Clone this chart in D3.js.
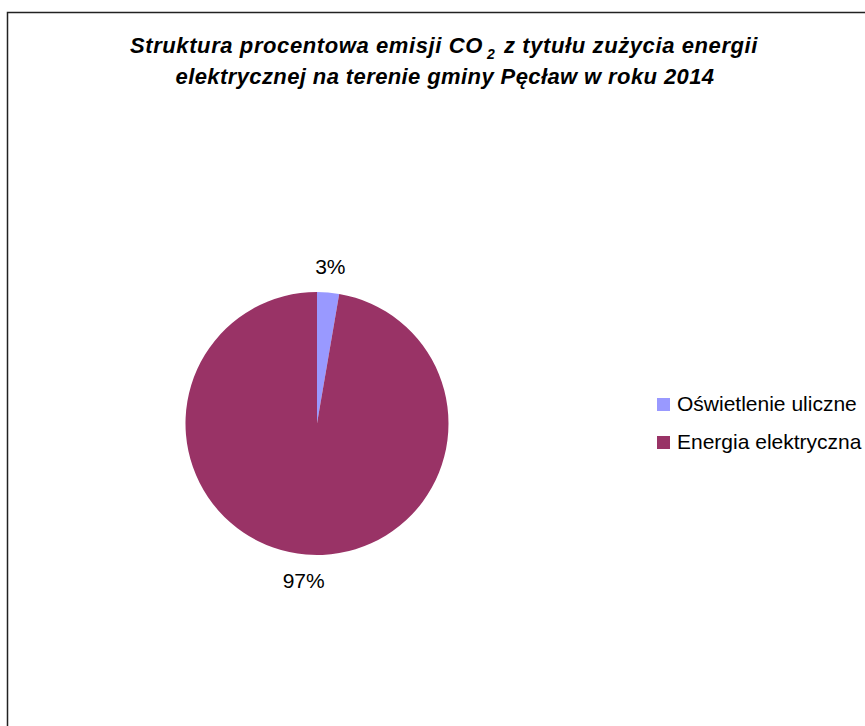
<!DOCTYPE html>
<html>
<head>
<meta charset="utf-8">
<script src="https://cdn.jsdelivr.net/npm/d3@7/dist/d3.min.js"></script>
<style>
  html, body { margin: 0; padding: 0; background: #fff; }
  svg { display: block; font-family: "Liberation Sans", Arial, sans-serif; }
</style>
</head>
<body>
<svg id="chart" width="865" height="726"></svg>
<script>
// Emission shares of CO2 from electricity use (percent)
const categories = ["Oświetlenie uliczne", "Energia elektryczna"];
const shares = [2.7, 97.3];
const colors = ["#9999FF", "#993366"];
const titleLines = [
  ["Struktura procentowa emisji CO", "2", " z tytułu zużycia energii"],
  ["elektrycznej na terenie gminy Pęcław w roku 2014"]
];

const svg = d3.select("#chart");

// Chart frame
svg.append("rect")
  .attr("x", 7.5).attr("y", 12.5)
  .attr("width", 880).attr("height", 740)
  .attr("fill", "#fff")
  .attr("stroke", "#222").attr("stroke-width", 1.5);

// Title
const title = svg.append("text")
  .attr("text-anchor", "middle")
  .attr("font-size", 22)
  .attr("font-weight", "bold")
  .attr("font-style", "italic")
  .attr("letter-spacing", 0.6)
  .attr("fill", "#000");
const l1 = title.append("tspan").attr("x", 444).attr("y", 53);
l1.append("tspan").text(titleLines[0][0]);
l1.append("tspan").attr("dy", 6).attr("dx", 4).attr("font-size", 14).text(titleLines[0][1]);
l1.append("tspan").attr("dy", -6).attr("dx", 2).text(titleLines[0][2]);
title.append("tspan").attr("x", 445).attr("y", 84).attr("letter-spacing", 0.4).text(titleLines[1][0]);

// Pie
const cx = 317, cy = 423.5, r = 131.5;
const data = categories.map((c, i) => ({ name: c, value: shares[i], color: colors[i] }));
const total = d3.sum(shares);
const pie = d3.pie().value(d => d.value).sort(null);
const arcs = pie(data);
const arc = d3.arc().innerRadius(0).outerRadius(r);
const labelArc = d3.arc().innerRadius(r + 26).outerRadius(r + 26);

const g = svg.append("g").attr("transform", `translate(${cx},${cy})`);
g.selectAll("path.slice")
  .data(arcs)
  .join("path")
  .attr("class", "slice")
  .attr("d", arc)
  .attr("fill", d => d.data.color);

const pct = d3.format(".0%");
g.selectAll("text.lbl")
  .data(arcs)
  .join("text")
  .attr("class", "lbl")
  .attr("transform", d => `translate(${labelArc.centroid(d)})`)
  .attr("text-anchor", "middle")
  .attr("dy", "0.35em")
  .attr("font-size", 21)
  .attr("fill", "#000")
  .text(d => pct(d.data.value / total));

// Legend
const legend = svg.append("g").attr("transform", "translate(657,398)");
const items = legend.selectAll("g")
  .data(data)
  .join("g")
  .attr("transform", (d, i) => `translate(0,${i * 38})`);
items.append("rect")
  .attr("width", 13).attr("height", 13)
  .attr("fill", d => d.color);
items.append("text")
  .attr("x", 20).attr("y", 12.5)
  .attr("font-size", 21)
  .attr("fill", "#000")
  .text(d => d.name);
</script>
</body>
</html>
